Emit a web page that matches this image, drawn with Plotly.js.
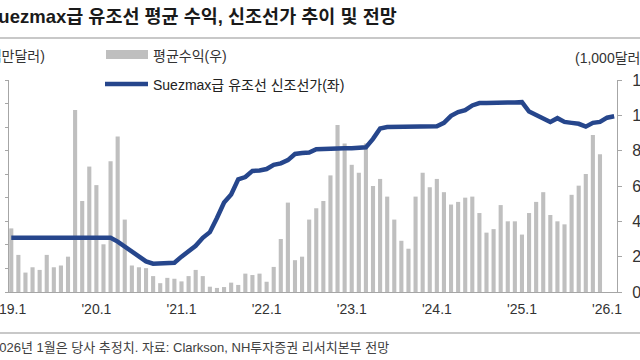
<!DOCTYPE html>
<html><head><meta charset="utf-8">
<script src="https://cdn.plot.ly/plotly-3.0.1.min.js"></script>
<style>html,body{margin:0;padding:0;background:#fff;overflow:hidden}#c{width:640px;height:360px}</style>
</head><body><div id="c"></div>
<script>
// Months 2019.1 .. 2026.2 (categories)
const months = [];
for (let y = 2019; y <= 2026; y++) for (let m = 1; m <= 12; m++) { if (y === 2026 && m > 2) break; months.push(y + '.' + m); }

// Suezmax average earnings (1,000 USD/day), right axis, 2019.1 .. 2025.12
const earnings = [36,21,11,14,12.5,21,14,15,20,103,51.5,71,
  60.5,27,74,88,41,15,14,13.5,9,5,8,7.5,
  6,9,12.5,9,3,2.3,2.8,5.3,4,10.4,9.6,10.4,
  5.8,14.2,30,50.6,18,20,41,47.4,51.5,66,94.5,84,
  72,67.5,84,60,64,54,41,29,24.5,54,67.5,59.3,
  64,56.5,49.5,51,53.4,54,44.7,33.6,35.6,49.2,40,40,
  32.5,44.7,51,56.5,43.6,40,38.3,55,60.2,66.8,88.9,78];

// Suezmax newbuilding price (million USD), left axis, 2019.1 .. 2026.2
const price = [61.5,61.5,61.5,61.5,61.5,61.5,61.5,61.5,61.5,61.5,61.5,61.5,
  61.5,61.5,61.5,60.7,59.7,58.6,57.6,56.5,56,56,56,56.2,
  57.5,58.7,59.8,61.5,62.7,65.7,69,70.7,73.9,74.4,75.7,75.8,
  76.1,77,77.3,78,79.3,79.5,79.6,80.3,80.4,80.4,80.4,80.5,
  80.5,80.5,80.7,82.5,84.7,85,85,85,85,85,85,85,
  85.2,85.9,87.4,88.2,88.6,89.6,90.1,90.1,90.2,90.2,90.2,90.2,
  90.3,88.3,87.5,86.8,86.1,86.9,86.1,85.9,85.7,85.1,85.9,86.1,
  87,87.3];

const tickCats = ['2019.1','2020.1','2021.1','2022.1','2023.1','2024.1','2025.1','2026.1'];
const tickText = ["'19.1","'20.1","'21.1","'22.1","'23.1","'24.1","'25.1","'26.1"];
const rightTicks = [0,20,40,60,80,100,120];

const barName = '평균수익(우)';
const lineName = 'Suezmax급 유조선 신조선가(좌)';

const KFONT = 'Liberation Sans, Noto Sans CJK KR, sans-serif';
const NFONT = 'Liberation Sans Narrow, Liberation Sans, sans-serif';

const L = 9, R = 617, T = 80, B = 292, W = 640, H = 360;
const px = x => (x - L) / (R - L);
const py = y => (B - y) / (B - T);

const traces = [
  { type: 'bar', x: months.slice(0, earnings.length), y: earnings, name: barName,
    marker: { color: '#bfbfbf' }, width: 0.58, yaxis: 'y', showlegend: false, hoverinfo: 'skip' },
  { type: 'scatter', mode: 'lines', x: months.slice(0, price.length), y: price, name: lineName,
    line: { color: '#26468c', width: 4.5 }, yaxis: 'y2', showlegend: false, hoverinfo: 'skip' }
];

const layout = {
  width: W, height: H,
  margin: { l: L, r: W - R, t: T, b: H - B, pad: 0 },
  paper_bgcolor: '#fff', plot_bgcolor: '#fff',
  showlegend: false,
  xaxis: { type: 'category', categoryorder: 'array', categoryarray: months,
    range: [-0.32, 85.4], tickmode: 'array', tickvals: tickCats, ticktext: tickText,
    showline: true, linecolor: '#a6a6a6', linewidth: 1, ticks: '', showgrid: false, zeroline: false,
    ticklabelstandoff: 4,
    tickfont: { family: NFONT, size: 14, color: '#333' } },
  yaxis: { side: 'right', range: [0, 120], tickmode: 'array', tickvals: rightTicks,
    showline: true, linecolor: '#a6a6a6', ticks: 'outside', ticklen: 4, tickcolor: '#a6a6a6',
    showgrid: false, zeroline: false, ticklabelstandoff: 7,
    tickfont: { family: NFONT, size: 16, color: '#333' } },
  yaxis2: { overlaying: 'y', side: 'left', range: [50, 95], dtick: 5,
    showline: true, linecolor: '#a6a6a6', ticks: 'outside', ticklen: 3, tickcolor: '#a6a6a6',
    showgrid: false, zeroline: false, showticklabels: false },
  shapes: [
    { type: 'line', xref: 'paper', yref: 'paper', x0: px(0), x1: px(640), y0: py(38), y1: py(38),
      line: { color: '#c8c8c8', width: 2 } },
    { type: 'line', xref: 'paper', yref: 'paper', x0: px(0), x1: px(640), y0: py(333), y1: py(333),
      line: { color: '#c8c8c8', width: 2 } },
    { type: 'rect', xref: 'paper', yref: 'paper', x0: px(106), x1: px(148), y0: py(59), y1: py(50),
      fillcolor: '#bfbfbf', line: { width: 0 } },
    { type: 'line', xref: 'paper', yref: 'paper', x0: px(105), x1: px(148), y0: py(84), y1: py(84),
      line: { color: '#26468c', width: 4.5 } }
  ],
  annotations: [
    { xref: 'paper', yref: 'paper', x: px(-16), y: py(16), xanchor: 'left', yanchor: 'middle', showarrow: false,
      text: '<b>Suezmax급 유조선 평균 수익, 신조선가 추이 및 전망</b>', font: { family: KFONT, size: 18.5, color: '#1a1a1a' } },
    { xref: 'paper', yref: 'paper', x: px(47), y: py(56), xanchor: 'right', yanchor: 'middle', showarrow: false,
      text: '(백만달러)', font: { family: KFONT, size: 14, color: '#333' } },
    { xref: 'paper', yref: 'paper', x: px(151), y: py(56), xanchor: 'left', yanchor: 'middle', showarrow: false,
      text: barName, font: { family: KFONT, size: 14, color: '#333' } },
    { xref: 'paper', yref: 'paper', x: px(573), y: py(58), xanchor: 'left', yanchor: 'middle', showarrow: false,
      text: '(1,000달러)', font: { family: KFONT, size: 14, color: '#333' } },
    { xref: 'paper', yref: 'paper', x: px(151), y: py(85), xanchor: 'left', yanchor: 'middle', showarrow: false,
      text: lineName, font: { family: KFONT, size: 14, color: '#222' } },
    { xref: 'paper', yref: 'paper', x: px(-10), y: py(347), xanchor: 'left', yanchor: 'middle', showarrow: false,
      text: '2026년 1월은 당사 추정치. 자료: Clarkson, NH투자증권 리서치본부 전망', font: { family: KFONT, size: 13, color: '#404040' } }
  ]
};

Plotly.newPlot('c', traces, layout, { staticPlot: true, displayModeBar: false });
</script>
</body></html>
